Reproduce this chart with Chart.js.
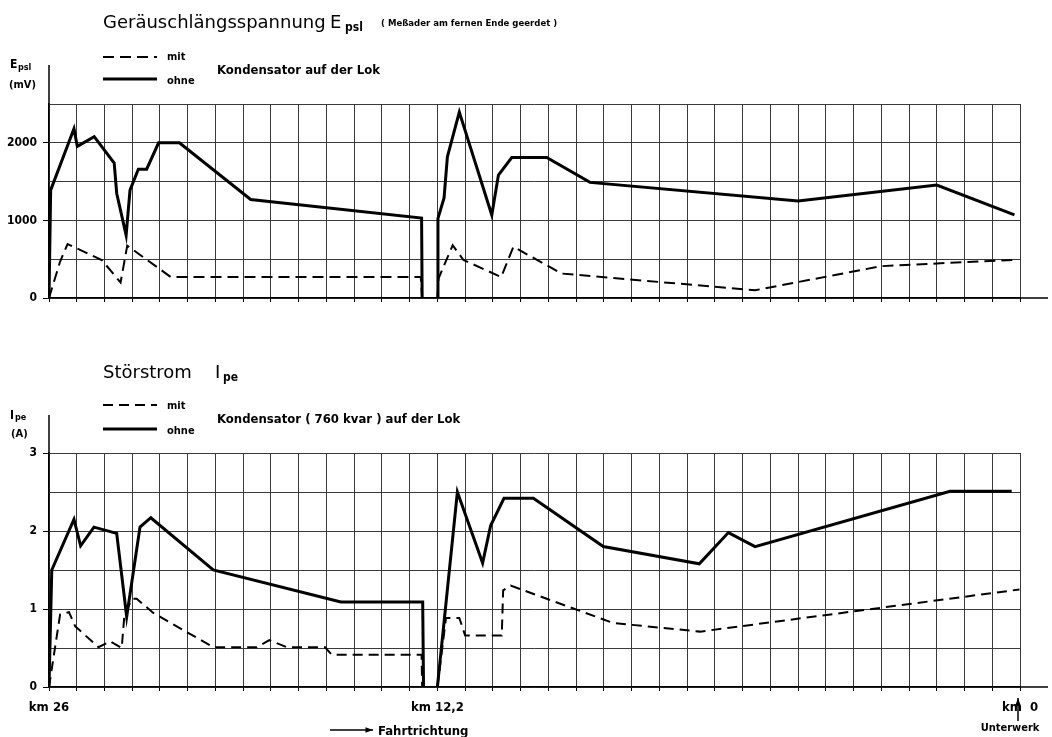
<!DOCTYPE html>
<html lang="de">
<head>
<meta charset="utf-8">
<title>Geräuschlängsspannung und Störstrom</title>
<script src="https://cdn.jsdelivr.net/npm/chart.js"></script>
<style>
  body { margin: 0; background: #fff; }
  .wrap { position: relative; width: 1052px; height: 737px; }
  canvas { position: absolute; left: 0; }
  #topChart { top: 0; }
  #botChart { top: 340px; }
</style>
</head>
<body>
<div class="wrap">
  <canvas id="topChart" width="1052" height="340"></canvas>
  <canvas id="botChart" width="1052" height="397"></canvas>
</div>
<script>
// x = position in grid divisions: 0 = km 26, 14 = km 12,2, 35 = km 0
const xGridCount = 35;
const xTickLabels = { 0: 'km 26', 14: 'km 12,2', 35: 'km  0' };

// Geräuschlängsspannung E_psl (mV)
const epslOhneX = [0, 0.06, 0.9, 1.02, 1.63, 2.35, 2.44, 2.78, 2.92, 3.22, 3.52, 3.95, 4.7, 7.27, 13.43, 13.45, 13.7,
                   14.0, 14.02, 14.24, 14.36, 14.79, 15.96, 16.2, 16.68, 17.94, 19.5, 27.0, 32.0, 34.8];
const epslOhneY = [0, 1390, 2180, 1955, 2080, 1740, 1350, 810, 1390, 1660, 1660, 2000, 2000, 1270, 1030, 0, null,
                   0, 1026, 1290, 1820, 2395, 1070, 1585, 1810, 1810, 1490, 1250, 1455, 1070];
const epslMitX = [0, 0.4, 0.67, 1.9, 2.58, 2.82, 4.39, 13.4, 13.45, 13.7,
                  14.0, 14.04, 14.55, 14.94, 16.3, 16.74, 18.48, 25.45, 30.0, 32.0, 34.76];
const epslMitY = [0, 470, 695, 490, 200, 675, 270, 270, 0, null,
                  0, 250, 680, 490, 270, 660, 315, 100, 410, 445, 490];
const epslTicks = [0, 500, 1000, 1500, 2000, 2500];

// Störstrom I_pe (A)
const ipeOhneX = [0, 0.1, 0.9, 1.14, 1.62, 2.44, 2.8, 3.28, 3.67, 5.92, 10.52, 13.47, 13.5, 13.75,
                  14.0, 14.72, 15.63, 15.92, 16.4, 17.46, 19.98, 23.44, 24.49, 25.45, 32.48, 34.7];
const ipeOhneY = [0, 1.5, 2.15, 1.81, 2.05, 1.97, 0.9, 2.05, 2.17, 1.5, 1.09, 1.09, 0, null,
                  0, 2.5, 1.59, 2.07, 2.42, 2.42, 1.8, 1.58, 1.98, 1.8, 2.51, 2.51];
const ipeMitX = [0, 0.4, 0.72, 0.94, 1.78, 2.2, 2.62, 2.72, 3.0, 3.16, 3.76, 5.92, 7.49, 7.94, 8.57, 9.95, 10.19, 13.43, 13.45, 13.75,
                 14.0, 14.31, 14.79, 15.0, 16.32, 16.37, 16.64, 20.34, 23.47, 34.98];
const ipeMitY = [0, 0.93, 0.96, 0.78, 0.51, 0.585, 0.5, 0.93, 1.13, 1.13, 0.95, 0.51, 0.51, 0.6, 0.51, 0.51, 0.415, 0.415, 0, null,
                 0, 0.885, 0.885, 0.66, 0.66, 1.24, 1.3, 0.82, 0.71, 1.25];
const ipeTicks = [0, 0.5, 1, 1.5, 2, 2.5, 3];

const pts = (xs, ys) => xs.map((x, i) => ({ x, y: ys[i] }));
const narrow = '"DejaVu Sans Condensed", "Liberation Sans Narrow", "DejaVu Sans", sans-serif';
const bold = s => 'bold ' + s + 'px ' + narrow;
const titleFont = '18px "DejaVu Sans", sans-serif';

function series(ohne, mit, dash) {
  return [
    { label: 'ohne', data: ohne, borderColor: '#000', borderWidth: 3, pointRadius: 0, tension: 0, spanGaps: false },
    { label: 'mit', data: mit, borderColor: '#000', borderWidth: 2, borderDash: dash, pointRadius: 0, tension: 0, spanGaps: false }
  ];
}

// axis extensions, legend samples, titles, arrows
function decor(axisTop, legendYs, texts, arrows) {
  return {
    id: 'decor',
    afterDraw(chart) {
      const { ctx, chartArea: a } = chart;
      ctx.save();
      ctx.strokeStyle = '#000';
      ctx.lineWidth = 1.5;
      ctx.beginPath();
      ctx.moveTo(a.left, a.top); ctx.lineTo(a.left, axisTop);
      ctx.moveTo(a.right, a.bottom); ctx.lineTo(chart.width - 4, a.bottom);
      ctx.stroke();

      // legend samples drawn with the dataset styles
      chart.data.datasets.forEach((ds, i) => {
        ctx.beginPath();
        ctx.lineWidth = ds.borderWidth;
        ctx.setLineDash(ds.borderDash || []);
        ctx.moveTo(103, legendYs[i]); ctx.lineTo(157, legendYs[i]);
        ctx.stroke();
      });
      ctx.setLineDash([]);

      ctx.fillStyle = '#000';
      ctx.textBaseline = 'alphabetic';
      texts.forEach(t => {
        ctx.font = t.font;
        ctx.textAlign = t.align || 'left';
        ctx.fillText(t.s, t.x, t.y);
      });

      arrows.forEach(ar => {
        ctx.lineWidth = 1.5;
        ctx.beginPath(); ctx.moveTo(ar[0], ar[1]); ctx.lineTo(ar[2], ar[3]); ctx.stroke();
        const ang = Math.atan2(ar[3] - ar[1], ar[2] - ar[0]);
        ctx.beginPath();
        ctx.moveTo(ar[2], ar[3]);
        ctx.lineTo(ar[2] - 8 * Math.cos(ang - 0.35), ar[3] - 8 * Math.sin(ang - 0.35));
        ctx.lineTo(ar[2] - 8 * Math.cos(ang + 0.35), ar[3] - 8 * Math.sin(ang + 0.35));
        ctx.closePath(); ctx.fill();
      });
      ctx.restore();
    }
  };
}

function makeChart(id, datasets, yTicks, yLabel, topPad, xHeight, showKm, plugin) {
  const yMax = yTicks[yTicks.length - 1];
  return new Chart(document.getElementById(id), {
    type: 'line',
    data: { datasets },
    options: {
      responsive: false,
      animation: false,
      layout: { padding: { top: topPad, right: 32, left: 0, bottom: 0 } },
      plugins: { legend: { display: false }, tooltip: { enabled: false } },
      scales: {
        x: {
          type: 'linear', min: 0, max: xGridCount,
          afterBuildTicks: s => { s.ticks = Array.from({ length: xGridCount + 1 }, (_, i) => ({ value: i })); },
          afterFit: s => { s.height = xHeight; },
          ticks: {
            autoSkip: false, maxRotation: 0, padding: 9, color: '#000',
            font: { family: narrow, size: 13, weight: 'bold' },
            callback: v => (showKm && xTickLabels[v]) ? xTickLabels[v] : ''
          },
          grid: { color: '#3a3a3a', lineWidth: 1, tickLength: 4, tickColor: '#000' },
          border: { color: '#000', width: 1.5 }
        },
        y: {
          min: 0, max: yMax,
          afterBuildTicks: s => { s.ticks = yTicks.map(v => ({ value: v })); },
          afterFit: s => { s.width = 49; },
          ticks: {
            padding: 6, color: '#000',
            font: { family: narrow, size: 12, weight: 'bold' },
            callback: v => yLabel(v)
          },
          grid: {
            color: '#3a3a3a', lineWidth: 1, tickLength: 6,
            tickColor: c => yLabel(c.tick.value) ? '#000' : 'rgba(0,0,0,0)'
          },
          border: { color: '#000', width: 1.5 }
        }
      }
    },
    plugins: [plugin]
  });
}

// top: Geräuschlängsspannung
makeChart('topChart',
  series(pts(epslOhneX, epslOhneY), pts(epslMitX, epslMitY), [11, 6]),
  epslTicks,
  v => v % 1000 === 0 ? String(v) : '',
  104, 42, false,
  decor(65, [79, 57], [
    { s: 'Geräuschlängsspannung', x: 103, y: 28, font: titleFont },
    { s: 'E', x: 330, y: 28, font: titleFont },
    { s: 'psl', x: 345, y: 31, font: bold(12) },
    { s: '( Meßader am fernen Ende geerdet )', x: 381, y: 26, font: bold(9.5) },
    { s: 'E', x: 10, y: 68, font: bold(12) },
    { s: 'psl', x: 18, y: 70, font: bold(9) },
    { s: '(mV)', x: 9, y: 88, font: bold(11) },
    { s: 'mit', x: 167, y: 60, font: bold(11) },
    { s: 'ohne', x: 167, y: 84, font: bold(11) },
    { s: 'Kondensator auf der Lok', x: 217, y: 74, font: bold(13) }
  ], [])
);

// bottom: Störstrom (canvas starts at page y 340)
makeChart('botChart',
  series(pts(ipeOhneX, ipeOhneY), pts(ipeMitX, ipeMitY), [10, 6]),
  ipeTicks,
  v => Number.isInteger(v) ? String(v) : '',
  113, 50, true,
  decor(75, [89, 65], [
    { s: 'Störstrom', x: 103, y: 38, font: titleFont },
    { s: 'I', x: 215, y: 38, font: titleFont },
    { s: 'pe', x: 223, y: 41, font: bold(12) },
    { s: 'I', x: 10, y: 79, font: bold(12) },
    { s: 'pe', x: 15, y: 80, font: bold(9) },
    { s: '(A)', x: 11, y: 97, font: bold(11) },
    { s: 'mit', x: 167, y: 69, font: bold(11) },
    { s: 'ohne', x: 167, y: 94, font: bold(11) },
    { s: 'Kondensator ( 760 kvar ) auf der Lok', x: 217, y: 83, font: bold(13) },
    { s: 'Fahrtrichtung', x: 378, y: 395, font: bold(13) },
    { s: 'Unterwerk', x: 1010, y: 391, font: bold(11), align: 'center' }
  ], [[330, 390, 373, 390], [1018, 381, 1018, 358]])
);
</script>
</body>
</html>
